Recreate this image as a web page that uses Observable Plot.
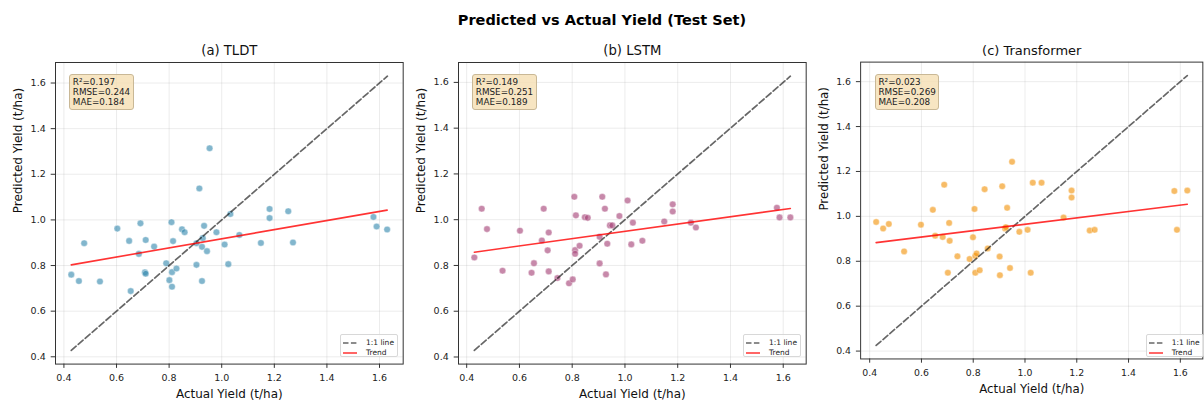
<!DOCTYPE html>
<html><head><meta charset="utf-8">
<script src="https://cdn.jsdelivr.net/npm/d3@7"></script>
<script src="https://cdn.jsdelivr.net/npm/@observablehq/plot@0.6"></script>
<style>
body{margin:0;background:#fff;font-family:"DejaVu Sans",sans-serif;}
#fig{position:relative;width:1204px;height:403px;overflow:hidden;background:#fff;}
#title{position:absolute;left:0;top:10px;width:1204px;text-align:center;font-weight:bold;font-size:14.5px;line-height:20px;color:#000;}
.panel{position:absolute;}
.panel svg{overflow:visible;}
.stats{position:absolute;background:rgba(245,222,179,0.8);border:1px solid #c9b896;border-radius:3px;font-size:8.8px;line-height:10.3px;padding:1.5px 2.5px;color:#222;white-space:pre;}
.legend{position:absolute;background:rgba(255,255,255,0.8);border:1px solid #d8d8d8;border-radius:2px;box-sizing:border-box;font-size:7.5px;color:#222;}
.legend .row{position:absolute;left:0;height:10px;line-height:10px;white-space:nowrap;}
.legend svg{position:absolute;left:2.3px;top:3px;}
.legend span{position:absolute;left:25px;top:0;}
</style>
</head><body>
<div id="fig"><div id="title">Predicted vs Actual Yield (Test Set)</div></div>
<script>
// ---- data ----
const panelTitles = ["(a) TLDT", "(b) LSTM", "(c) Transformer"];
const pointColors = ["#2E86AB", "#A23B72", "#F18F01"];
const tickValues = [0.4, 0.6, 0.8, 1.0, 1.2, 1.4, 1.6];

const tldtActual = [0.428,0.457,0.477,0.537,0.603,0.648,0.654,0.691,0.685,0.711,0.708,0.711,0.743,0.789,0.801,0.809,0.815,0.811,0.811,0.828,0.849,0.859,0.904,0.904,0.915,0.925,0.928,0.925,0.933,0.944,0.954,0.980,1.011,1.025,1.033,1.067,1.149,1.182,1.182,1.253,1.271,1.577,1.589,1.629];
const tldtPred = [0.760,0.732,0.898,0.730,0.962,0.908,0.688,0.985,0.851,0.912,0.770,0.764,0.883,0.810,0.736,0.990,0.907,0.771,0.707,0.787,0.959,0.946,0.898,0.803,1.138,0.882,0.920,0.732,0.974,0.863,1.314,0.946,0.892,0.806,1.026,0.934,0.899,1.048,1.008,1.038,0.901,1.013,0.971,0.958];

const lstmActual = [0.429,0.457,0.477,0.536,0.602,0.646,0.655,0.692,0.685,0.707,0.711,0.711,0.744,0.788,0.802,0.808,0.811,0.811,0.814,0.828,0.848,0.859,0.904,0.904,0.914,0.924,0.928,0.933,0.943,0.952,0.979,1.010,1.024,1.030,1.066,1.149,1.181,1.181,1.250,1.269,1.576,1.586,1.627];
const lstmPred = [0.835,1.048,0.959,0.777,0.952,0.768,0.810,1.048,0.909,0.866,0.944,0.774,0.745,0.722,0.739,1.100,0.867,0.851,1.019,0.886,1.011,1.008,0.925,0.809,1.100,1.048,0.761,0.895,0.975,0.975,1.016,1.084,0.892,0.987,0.908,0.992,1.067,1.036,0.987,0.966,1.052,1.010,1.010];

const transActual = [0.425,0.452,0.474,0.533,0.598,0.644,0.653,0.688,0.682,0.707,0.709,0.702,0.739,0.786,0.799,0.805,0.808,0.813,0.808,0.825,0.844,0.856,0.902,0.903,0.912,0.923,0.931,0.942,0.926,0.950,0.978,1.010,1.022,1.030,1.064,1.149,1.180,1.180,1.250,1.269,1.577,1.587,1.627];
const transPred = [0.975,0.946,0.966,0.844,0.963,1.029,0.914,1.141,0.908,0.971,0.891,0.749,0.822,0.810,0.907,1.033,0.824,0.835,0.749,0.760,1.121,0.857,0.821,0.738,1.134,0.946,1.038,0.770,0.952,1.243,0.931,0.940,0.749,1.150,1.150,0.995,1.115,1.084,0.937,0.940,1.113,0.940,1.115];

// 1:1 line extents and trend line endpoints
const identityExtents = [[0.428, 1.630], [0.429, 1.627], [0.425, 1.627]];
const trendX = [[0.428, 1.629], [0.429, 1.627], [0.425, 1.627]];
const trendY = [[0.803, 1.043], [0.858, 1.049], [0.883, 1.054]];
const axisDomains = [[0.368, 1.690], [0.369, 1.687], [0.365, 1.687]];

const statsR2 = ["0.197", "0.149", "0.023"];
const statsRMSE = ["0.244", "0.251", "0.269"];
const statsMAE = ["0.184", "0.189", "0.208"];

const actualSets = [tldtActual, lstmActual, transActual];
const predSets = [tldtPred, lstmPred, transPred];

// ---- layout ----
const frameLefts = [55, 458, 860.7];
const frameW = 347.7, frameTop = 61.7, frameBottom = 363.3;
const mL = 55, mR = 2, mT = 24, mB = 39.7;
const fig = document.getElementById("fig");
const fmt = d3.format(".1f");

for (let i = 0; i < 3; i++) {
  const pts = actualSets[i].map((a, k) => ({actual: a, pred: predSets[i][k]}));
  const trend = trendX[i].map((x, k) => ({x, y: trendY[i][k]}));
  const dom = axisDomains[i];
  const plot = Plot.plot({
    width: mL + frameW + mR,
    height: mT + (frameBottom - frameTop) + mB,
    marginLeft: mL, marginRight: mR, marginTop: mT, marginBottom: mB,
    style: {background: "transparent", fontFamily: "DejaVu Sans, sans-serif", fontSize: "9.5px", color: "#222", overflow: "visible"},
    x: {domain: dom},
    y: {domain: dom},
    marks: [
      Plot.gridX(tickValues, {stroke: "#b0b0b0", strokeOpacity: 0.3, strokeWidth: 0.8}),
      Plot.gridY(tickValues, {stroke: "#b0b0b0", strokeOpacity: 0.3, strokeWidth: 0.8}),
      Plot.axisX(tickValues, {tickSize: 4.3, tickPadding: 6, tickFormat: fmt, label: null, fontSize: 9.5, stroke: "#333"}),
      Plot.axisY(tickValues, {tickSize: 4.3, tickPadding: 5.5, tickFormat: fmt, label: null, fontSize: 9.5, stroke: "#333"}),
      Plot.dot(pts, {x: "actual", y: "pred", r: 3.3, fill: pointColors[i], fillOpacity: 0.6, stroke: "white", strokeWidth: 0.4}),
      Plot.line(identityExtents[i], {x: d => d, y: d => d, stroke: "black", strokeOpacity: 0.6, strokeWidth: 1.7, strokeDasharray: "6.4,2.8"}),
      Plot.line(trend, {x: "x", y: "y", stroke: "red", strokeOpacity: 0.8, strokeWidth: 1.6}),
      Plot.frame({stroke: "#333", strokeWidth: 1}),
      Plot.text([panelTitles[i]], {frameAnchor: "top", dy: -11.5, lineAnchor: "middle", fontSize: 13.2, fill: "#111"}),
      Plot.text(["Actual Yield (t/ha)"], {frameAnchor: "bottom", dy: 30.5, lineAnchor: "middle", fontSize: 12, fill: "#111"}),
      Plot.text(["Predicted Yield (t/ha)"], {frameAnchor: "left", dx: -37, rotate: -90, lineAnchor: "middle", fontSize: 12, fill: "#111"})
    ]
  });
  const wrap = document.createElement("div");
  wrap.className = "panel";
  wrap.style.left = (frameLefts[i] - mL) + "px";
  wrap.style.top = (frameTop - mT) + "px";
  wrap.appendChild(plot);
  fig.appendChild(wrap);

  // stats box
  const st = document.createElement("div");
  st.className = "stats";
  st.style.left = (frameLefts[i] + 14.3) + "px";
  st.style.top = (frameTop + 12.3) + "px";
  st.textContent = `R²=${statsR2[i]}\nRMSE=${statsRMSE[i]}\nMAE=${statsMAE[i]}`;
  fig.appendChild(st);

  // legend
  const lg = document.createElement("div");
  lg.className = "legend";
  const lw = 58.3, lh = 23.3;
  lg.style.left = (frameLefts[i] + frameW - 4.4 - lw) + "px";
  lg.style.top = (frameBottom - 6 - lh) + "px";
  lg.style.width = lw + "px";
  lg.style.height = lh + "px";
  lg.innerHTML =
    `<div class="row" style="top:2.8px"><svg width="14" height="4"><line x1="0" x2="14" y1="2" y2="2" stroke="#000" stroke-opacity="0.6" stroke-width="1.5" stroke-dasharray="5.5,2.4"/></svg><span>1:1 line</span></div>` +
    `<div class="row" style="top:13.2px"><svg width="14" height="4"><line x1="0" x2="14" y1="2" y2="2" stroke="red" stroke-opacity="0.8" stroke-width="1.5"/></svg><span>Trend</span></div>`;
  fig.appendChild(lg);
}
</script>
</body></html>
